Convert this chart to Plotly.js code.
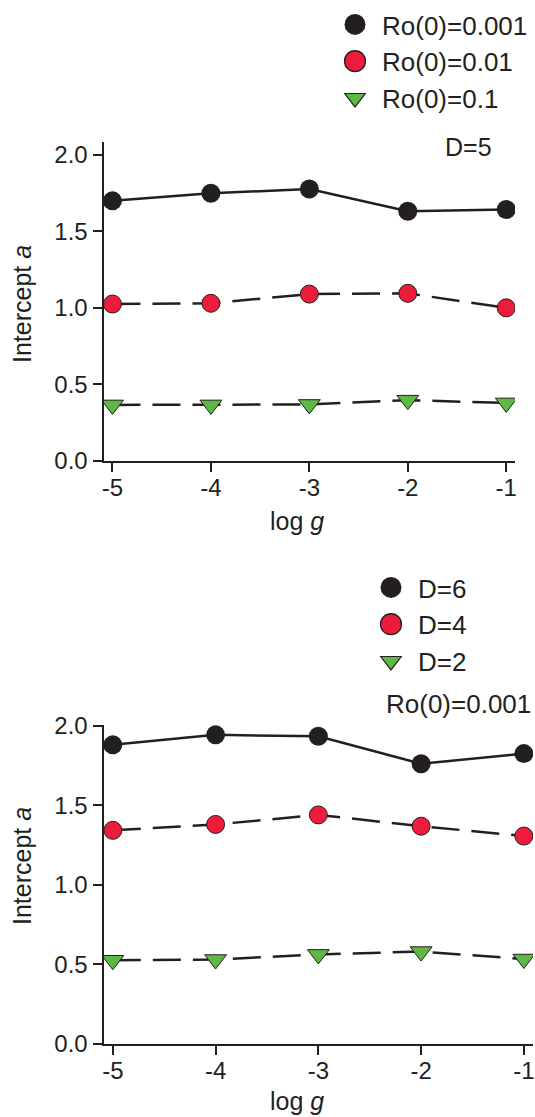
<!DOCTYPE html>
<html>
<head>
<meta charset="utf-8">
<script src="https://cdn.plot.ly/plotly-3.0.1.min.js"></script>
<style>html,body{margin:0;padding:0;background:#fff;}#chart{width:535px;height:1117px;}</style>
</head>
<body>
<div id="chart"></div>
<script>
// ---- data ----
const logG = [-5, -4, -3, -2, -1];
const topNames = ['Ro(0)=0.001', 'Ro(0)=0.01', 'Ro(0)=0.1'];
const topBlack = [1.700, 1.750, 1.777, 1.632, 1.643];
const topRed   = [1.025, 1.030, 1.090, 1.095, 1.000];
const topGreen = [0.365, 0.365, 0.368, 0.396, 0.378];
const botNames = ['D=6', 'D=4', 'D=2'];
const botBlack = [1.881, 1.944, 1.935, 1.762, 1.826];
const botRed   = [1.343, 1.380, 1.440, 1.369, 1.307];
const botGreen = [0.525, 0.530, 0.562, 0.580, 0.533];
const yTicks = [0, 0.5, 1.0, 1.5, 2.0];
const xTicks = [-5, -4, -3, -2, -1];
const topNote = 'D=5';
const botNote = 'Ro(0)=0.001';
const xTitle = 'log <i>g</i>';
const yTitle = 'Intercept <i>a</i>';

// ---- styles ----
const INK = '#231f20';
const FONT = 'Liberation Sans, Arial, Helvetica, sans-serif';
const styles = [
  {color: INK, symbol: 'circle', size: 19, lw: 0, dash: 'solid', legScale: 1.31},
  {color: '#ec1c3a', symbol: 'circle', size: 18, lw: 1, dash: '28px,12px', legScale: 1.31},
  {color: '#5db846', symbol: 'triangle-down', size: 19, lw: 1, dash: '28px,12px', legScale: 1.12}
];

function panel(series, names, xa, ya, leg) {
  const lines = [], marks = [];
  series.forEach((ys, i) => {
    const s = styles[i];
    lines.push({x: logG, y: ys, xaxis: xa, yaxis: ya, mode: 'lines', showlegend: false,
      hoverinfo: 'skip', line: {color: INK, width: 2.5, dash: s.dash}});
    marks.push({x: logG, y: ys, xaxis: xa, yaxis: ya, mode: 'markers', name: names[i],
      legend: leg, marker: {color: s.color, symbol: s.symbol, size: s.size,
      line: {color: INK, width: s.lw}}});
  });
  return lines.concat(marks);
}

const data = panel([topBlack, topRed, topGreen], topNames, 'x', 'y', 'legend')
  .concat(panel([botBlack, botRed, botGreen], botNames, 'x2', 'y2', 'legend2'));

function xAxis(domain, anchor) {
  return {domain: domain, anchor: anchor, range: [-5.086, -0.911], tickvals: xTicks,
    ticktext: xTicks.map(v => String(v)),
    showline: true, linecolor: INK, linewidth: 2.5, ticks: 'outside', ticklen: 9,
    tickwidth: 2, tickcolor: INK, showgrid: false, zeroline: false, ticklabelstandoff: -5,
    tickfont: {family: FONT, size: 24, color: INK}, fixedrange: true};
}
function yAxis(domain, anchor, top) {
  return {domain: domain, anchor: anchor, range: [0, top], tickvals: yTicks,
    tickformat: '.1f', showline: true, linecolor: INK, linewidth: 2.5, ticks: 'outside',
    ticklen: 9, tickwidth: 2, tickcolor: INK, showgrid: false, zeroline: false,
    tickfont: {family: FONT, size: 24, color: INK}, fixedrange: true};
}
const H = 1117, W = 535;
const py = p => (H - p) / H, px = p => p / W;

const txt = (t, x, y, size, extra) => Object.assign({text: t, x: x, y: y, xref: 'paper',
  yref: 'paper', showarrow: false, font: {family: FONT, size: size, color: INK}}, extra || {});

const layout = {
  width: W, height: H, margin: {l: 0, r: 0, t: 0, b: 0},
  paper_bgcolor: '#fff', plot_bgcolor: 'rgba(0,0,0,0)',
  xaxis: xAxis([px(104), px(515)], 'y'),
  yaxis: yAxis([py(460.7), py(141.7)], 'x', 2.087),
  xaxis2: xAxis([px(104), px(533)], 'y2'),
  yaxis2: yAxis([py(1043.7), py(725)], 'x2', 2.006),
  legend: {x: px(328), y: py(1), xanchor: 'left', yanchor: 'top', itemwidth: 44,
    font: {family: FONT, size: 26, color: INK}, bgcolor: 'rgba(0,0,0,0)', traceorder: 'normal'},
  legend2: {x: px(364), y: py(564), xanchor: 'left', yanchor: 'top', itemwidth: 44,
    font: {family: FONT, size: 26, color: INK}, bgcolor: 'rgba(0,0,0,0)', traceorder: 'normal'},
  annotations: [
    txt(topNote, px(443), py(147), 25, {xanchor: 'left', yanchor: 'middle'}),
    txt(botNote, px(384), py(704), 26, {xanchor: 'left', yanchor: 'middle'}),
    txt(xTitle, px(297), py(521), 25, {xanchor: 'center', yanchor: 'middle'}),
    txt(xTitle, px(297), py(1101), 25, {xanchor: 'center', yanchor: 'middle'}),
    txt(yTitle, px(22), py(304), 25, {xanchor: 'center', yanchor: 'middle', textangle: -90}),
    txt(yTitle, px(22), py(866), 25, {xanchor: 'center', yanchor: 'middle', textangle: -90})
  ],
  showlegend: true
};

Plotly.newPlot('chart', data, layout, {displayModeBar: false, staticPlot: true}).then(gd => {
  // enlarge legend symbols (Plotly caps legend marker size at 16px)
  ['legend', 'legend2'].forEach(cls => {
    const items = gd.querySelectorAll('.' + cls + ' .traces');
    items.forEach((it, i) => {
      const sc = styles[i % 3].legScale;
      it.querySelectorAll('.legendpoints path').forEach(p => {
        const t = p.getAttribute('transform') || '';
        p.setAttribute('transform', t + ' scale(' + sc + ')');
      });
    });
  });
});
</script>
</body>
</html>
